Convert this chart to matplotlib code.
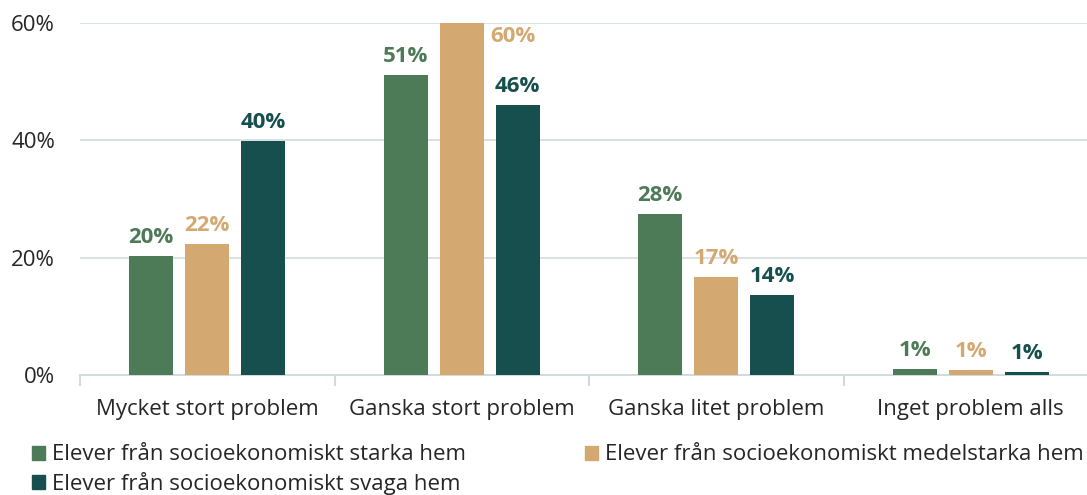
import numpy as np
import matplotlib.pyplot as plt
from matplotlib.patches import Patch

plt.rcParams['font.family'] = ['Open Sans', 'DejaVu Sans']

categories = ["Mycket stort problem", "Ganska stort problem", "Ganska litet problem", "Inget problem alls"]
series = ["Elever från socioekonomiskt starka hem",
          "Elever från socioekonomiskt medelstarka hem",
          "Elever från socioekonomiskt svaga hem"]
starka = [20.3, 51.1, 27.4, 1.0]
medel = [22.3, 60.0, 16.7, 0.85]
svaga = [39.9, 46.0, 13.6, 0.5]
labels_starka = ["20%", "51%", "28%", "1%"]
labels_medel = ["22%", "60%", "17%", "1%"]
labels_svaga = ["40%", "46%", "14%", "1%"]

colors = ["#4e7b57", "#d4a971", "#174f4f"]
text_col = "#262626"
grid_col = "#d2dbdb"

fig = plt.figure(figsize=(10.87, 4.95), dpi=100)
ax = fig.add_axes([80/1087, 120/495, 1018/1087, 352/495])

x = np.arange(len(categories))
w = 0.173
off = 0.22
data = [starka, medel, svaga]
labs = [labels_starka, labels_medel, labels_svaga]
for i, (vals, lab, c) in enumerate(zip(data, labs, colors)):
    xs = x + (i - 1) * off
    ax.bar(xs, vals, width=w, color=c, zorder=3)
    for xi, v, t in zip(xs, vals, lab):
        if v >= 59.5:
            ax.annotate(t, (xi, v), xytext=(37, -10), textcoords="offset points",
                        ha="center", va="center", color=c, fontsize=16, fontweight="bold")
        else:
            ax.annotate(t, (xi, v), xytext=(0, 6), textcoords="offset points",
                        ha="center", va="bottom", color=c, fontsize=16, fontweight="bold")

ax.set_xlim(-0.5, 3.5)
ax.set_ylim(0, 60)
ax.set_yticks([0, 20, 40, 60])
ax.set_yticklabels(["0%", "20%", "40%", "60%"])
ax.yaxis.grid(True, color=grid_col, linewidth=1.2, zorder=0)
ax.set_axisbelow(True)
for s in ["top", "right", "left"]:
    ax.spines[s].set_visible(False)
ax.spines["bottom"].set_color(grid_col)
ax.spines["bottom"].set_linewidth(1.5)
ax.set_xticks(x)
ax.set_xticklabels(categories)
ax.set_xticks(np.arange(-0.5, 4, 1), minor=True)
ax.tick_params(axis="x", which="major", length=0, pad=17, labelsize=16, labelcolor=text_col)
ax.tick_params(axis="x", which="minor", length=8, width=1.5, color=grid_col)
ax.tick_params(axis="y", length=0, pad=18, labelsize=16, labelcolor=text_col)

handles = [Patch(color=colors[0]), Patch(color=colors[2]), Patch(color=colors[1])]
names = [series[0], series[2], series[1]]
fig.legend(handles, names, ncol=2, loc="upper left", bbox_to_anchor=(0.021, 0.12),
           frameon=False, fontsize=16, handlelength=0.6, handleheight=0.6,
           handletextpad=0.3, columnspacing=5.35, labelspacing=0.3, borderaxespad=0,
           labelcolor=text_col)

fig.savefig("out.png", dpi=100)
